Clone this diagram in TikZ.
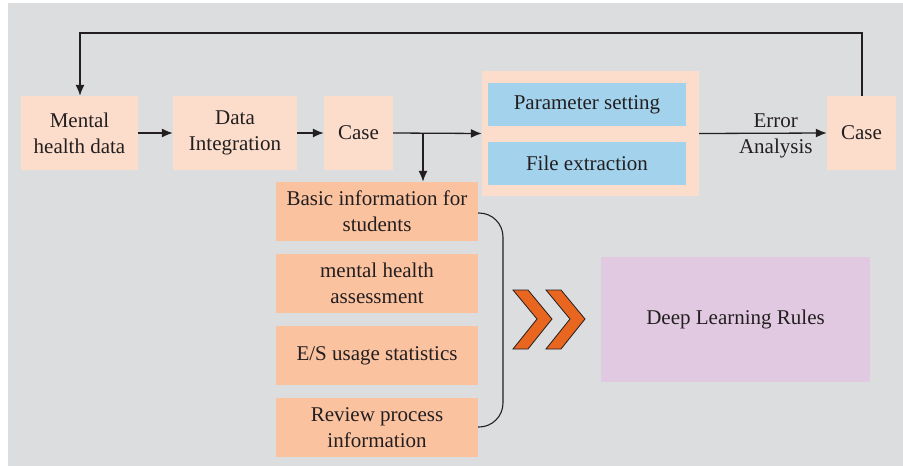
\documentclass[tikz,border=0pt]{standalone}
\usepackage{fontspec}
\setmainfont{Liberation Serif}
\usetikzlibrary{arrows.meta}
\definecolor{bg}{HTML}{DCDDDF}
\definecolor{peachL}{HTML}{FCDDCB}
\definecolor{peachD}{HTML}{FBC2A0}
\definecolor{blueB}{HTML}{A3D2EC}
\definecolor{purp}{HTML}{E0C9E1}
\definecolor{orng}{HTML}{E8661F}
\definecolor{ink}{HTML}{231F20}
\tikzset{
  box/.style={fill=#1, draw=none, inner sep=0pt, align=center, text=ink,
    font=\fontsize{21}{26}\selectfont},
  conn/.style={draw=ink, line width=1.3pt},
  arr/.style={conn, -{Latex[length=11pt,width=9pt]}},
}
\begin{document}
\begin{tikzpicture}[x=1pt,y=-1pt]
\useasboundingbox (0,0) rectangle (903,466);
\fill[white] (0,0) rectangle (903,466);
\fill[bg] (8,3) rectangle (903,466);
% top row
\node[box=peachL, minimum width=117pt, minimum height=74pt] (mhd) at (79.5,133) {Mental\\health data};
\node[box=peachL, minimum width=124pt, minimum height=74pt] (di) at (235,133) {Data\\Integration};
\node[box=peachL, minimum width=69pt, minimum height=74pt] (case1) at (358.5,133) {Case};
\node[box=peachL, minimum width=217pt, minimum height=125pt] (big) at (590.5,133.5) {};
\node[box=blueB, minimum width=198pt, minimum height=43pt] (ps) at (587,104.5) {Parameter setting};
\node[box=blueB, minimum width=198pt, minimum height=43pt] (fe) at (587,163.5) {File extraction};
\node[box=peachL, minimum width=69pt, minimum height=74pt] (case2) at (861.5,133) {Case};
% left column
\node[box=peachD, minimum width=202pt, minimum height=59pt] (b1) at (377,211.5) {Basic information for\\students};
\node[box=peachD, minimum width=202pt, minimum height=59pt] (b2) at (377,283.5) {mental health\\assessment};
\node[box=peachD, minimum width=202pt, minimum height=59pt] (b3) at (377,355.5) {E/S usage statistics};
\node[box=peachD, minimum width=202pt, minimum height=59pt] (b4) at (377,427.5) {Review process\\information};
\node[box=purp, minimum width=269pt, minimum height=125pt] (dl) at (735.5,319.5) {Deep Learning Rules};
% connectors
\draw[arr] (mhd.east) -- (di.west);
\draw[arr] (di.east) -- (case1.west);
\draw[arr] (case1.east) -- (big.west);
\coordinate (split) at (423,133);
\draw[arr] (split) -- (split |- b1.north);
\draw[arr] (big.east) -- node[box=bg, fill=none, pos=0.6, yshift=-3pt] {Error\\Analysis} (case2.west);
\coordinate (fbR) at (862,33);
\coordinate (fbL) at (80,33);
\draw[arr] (case2.north -| fbR) -- (fbR) -- (fbL) -- (mhd.north -| fbL);
% bracket
\coordinate (brT) at (478,213);
\coordinate (brB) at (478,427);
\draw[conn, line width=1.1pt, rounded corners=24pt] (brT) -- (503,213) -- (503,427) -- (brB);
% chevrons
\foreach \dx in {0,33}{
  \draw[fill=orng, draw=ink, line width=0.8pt, line join=miter]
    (513+\dx,290) -- (528+\dx,290) -- (552+\dx,319) -- (528+\dx,349)
    -- (513+\dx,349) -- (537+\dx,319) -- cycle;
}
\end{tikzpicture}
\end{document}
